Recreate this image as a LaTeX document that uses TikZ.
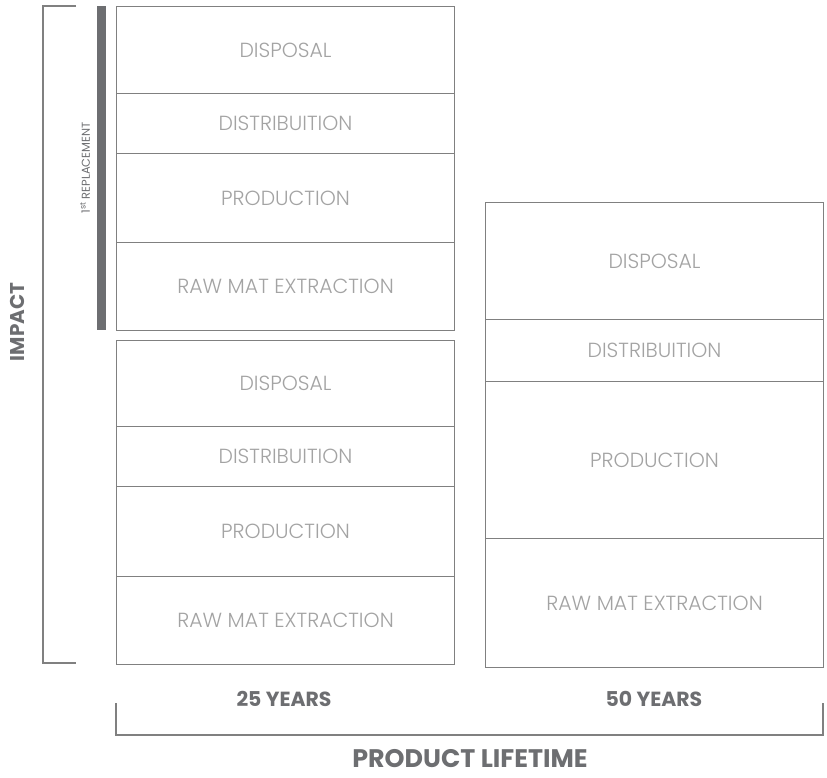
\documentclass[tikz,border=0pt]{standalone}
\usepackage{fontspec}
\setmainfont{Poppins}
\newfontfamily\lightf{Poppins Light}
\definecolor{boxline}{HTML}{808080}
\definecolor{lighttext}{HTML}{A3A3A3}
\definecolor{darkgray}{HTML}{6D6E71}
\begin{document}
\begin{tikzpicture}[x=1bp,y=-1bp,
  seg/.style={draw=boxline,line width=1.1bp,anchor=north west,inner sep=0pt,
    minimum width=338bp,text=lighttext,font=\lightf\fontsize{20.5}{22}\selectfont},
  axislabel/.style={text=darkgray,font=\bfseries\fontsize{#1}{#1}\selectfont,inner sep=0pt},
  bracket/.style={draw=boxline,line width=1.3bp}]
\useasboundingbox[fill=white] (0,0) rectangle (827,778);
% left column, top stack (1st replacement)
\node[seg,minimum height=87bp] (a1) at (116,6) {DISPOSAL};
\node[seg,minimum height=60bp] (a2) at (116,93) {DISTRIBUITION};
\node[seg,minimum height=89bp] (a3) at (116,153) {PRODUCTION};
\node[seg,minimum height=88bp] (a4) at (116,242) {RAW MAT EXTRACTION};
% left column, bottom stack
\node[seg,minimum height=86bp] (b1) at (116,340) {DISPOSAL};
\node[seg,minimum height=60bp] (b2) at (116,426) {DISTRIBUITION};
\node[seg,minimum height=90bp] (b3) at (116,486) {PRODUCTION};
\node[seg,minimum height=88bp] (b4) at (116,576) {RAW MAT EXTRACTION};
% right column
\node[seg,minimum height=117bp] (c1) at (485,202) {DISPOSAL};
\node[seg,minimum height=62bp] (c2) at (485,319) {DISTRIBUITION};
\node[seg,minimum height=157bp] (c3) at (485,381) {PRODUCTION};
\node[seg,minimum height=129bp] (c4) at (485,538) {RAW MAT EXTRACTION};
% replacement bar
\fill[darkgray] (97,6) rectangle (106,330);
\node[rotate=90,text=darkgray,font=\fontsize{11.5}{12}\selectfont,inner sep=0pt] (rep) at (85,168) {1\textsuperscript{st} REPLACEMENT};
% impact bracket
\coordinate (it1) at (76,6);
\coordinate (it2) at (43,6);
\coordinate (ib1) at (43,663);
\coordinate (ib2) at (76,663);
\draw[bracket] (it1) -- (it2) -- (ib1) -- (ib2);
\node[axislabel=20,rotate=90] (impact) at (17,322) {IMPACT};
% lifetime bracket
\coordinate (lt1) at (116,703);
\coordinate (lt2) at (116,735);
\coordinate (lt3) at (823,735);
\coordinate (lt4) at (823,703);
\draw[bracket] (lt1) -- (lt2) -- (lt3) -- (lt4);
\node[axislabel=20.5] (y25) at (284,699) {25 YEARS};
\node[axislabel=20.5] (y50) at (654,699) {50 YEARS};
\node[axislabel=25.5] (plt) at (470,759) {PRODUCT LIFETIME};
\end{tikzpicture}
\end{document}
